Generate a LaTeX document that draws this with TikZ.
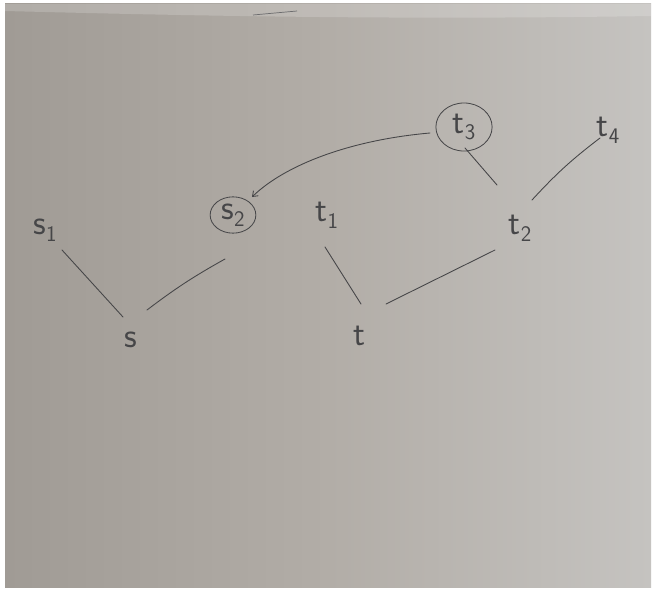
\documentclass[tikz,border=0pt]{standalone}
\usetikzlibrary{shapes.geometric,arrows.meta}
\definecolor{pencil}{RGB}{70,70,72}
\definecolor{paperL}{RGB}{160,155,149}
\definecolor{paperM}{RGB}{178,173,167}
\definecolor{paperR}{RGB}{197,195,192}
\tikzset{
  lbl/.style={inner sep=0pt, text=pencil, font=\sffamily\fontsize{30}{30}\selectfont},
  ring/.style={lbl, draw=pencil, line width=0.7pt, ellipse, minimum width=#1},
  edge/.style={draw=pencil, line width=0.75pt, line cap=round}
}
\newcommand{\lab}[2]{#1\raisebox{-0.45ex}{\fontsize{19}{19}\selectfont #2}}
\begin{document}
\begin{tikzpicture}[x=0.03cm,y=-0.03cm]
\useasboundingbox (0,0) rectangle (652,591);
\fill[white] (0,0) rectangle (652,591);
\shade[left color=paperL, right color=paperR, middle color=paperM] (5,4) rectangle (651,587);
\fill[white, opacity=0.18] (5,4) -- (651,4) -- (651,16) .. controls (400,20) and (200,16) .. (5,11) -- cycle;
\draw[pencil!80, line width=0.6pt] (253,15) -- (297,11);

\node[lbl] (s1) at (45,230) {\lab{s}{1}};
\node[lbl] (s) at (131,340) {s};
\node[ring=39pt, minimum height=31pt] (s2) at (233,215) {\lab{s}{2}};
\node[lbl] (t1) at (327,215) {\lab{t}{1}};
\node[lbl] (t) at (359,336) {t};
\node[lbl] (t2) at (520,228) {\lab{t}{2}};
\node[ring=48pt, minimum height=41pt] (t3) at (464,127) {\lab{t}{3}};
\node[lbl] (t4) at (608,130) {\lab{t}{4}};

\draw[edge] ([shift={(17,20)}]s1.center) -- ([shift={(-8,-23)}]s.center);
\draw[edge] ([shift={(16,-30)}]s.center) to[bend left=4] ([shift={(-8,44)}]s2.center);
\draw[edge, -{Straight Barb[length=4pt,width=6pt]}] ([shift={(-34,6)}]t3.center) .. controls (350,140) and (285,165) .. ([shift={(19,-18)}]s2.center);
\draw[edge] ([shift={(1,21)}]t3.center) -- ([shift={(-23,-43)}]t2.center);
\draw[edge] ([shift={(12,-28)}]t2.center) to[bend left=5] ([shift={(-8,8)}]t4.center);
\draw[edge] ([shift={(-2,32)}]t1.center) -- ([shift={(2,-32)}]t.center);
\draw[edge] ([shift={(27,-32)}]t.center) -- ([shift={(-25,22)}]t2.center);
\end{tikzpicture}
\end{document}
